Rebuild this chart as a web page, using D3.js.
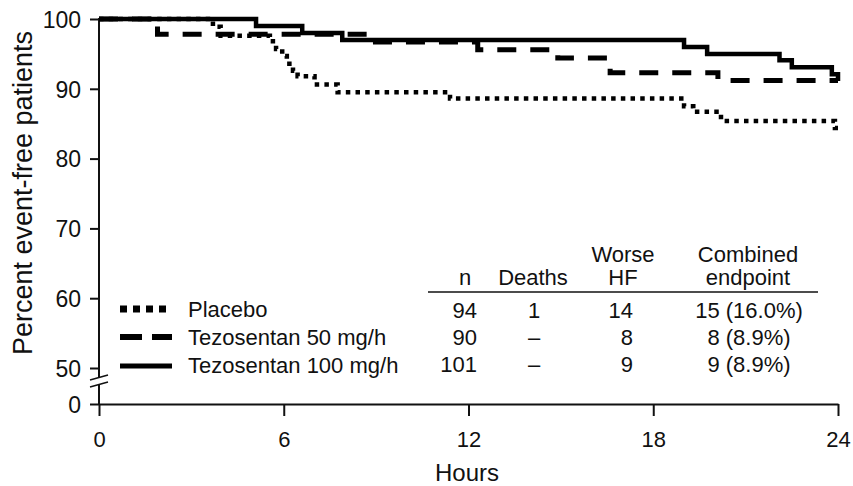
<!DOCTYPE html>
<html><head><meta charset="utf-8">
<script src="https://cdn.jsdelivr.net/npm/d3@7"></script>
<style>
body{margin:0;background:#fff}
svg{display:block;background:#fff}
text{font-family:"Liberation Sans",Arial,Helvetica,sans-serif;fill:#111}
</style>
</head><body>
<svg id="chart" width="853" height="486"></svg>
<script>
// ---- data ----
const xTicks = [0, 6, 12, 18, 24];
const yTicks = [0, 50, 60, 70, 80, 90, 100];
const seriesNames = ["Placebo", "Tezosentan 50 mg/h", "Tezosentan 100 mg/h"];

const placeboTimes  = [0, 3.7, 3.95, 5.55, 5.75, 5.95, 6.1, 6.3, 6.45, 7.0, 7.75, 11.4, 19.0, 19.3, 20.2, 23.9];
const placeboValues = [100, 98.9, 97.6, 96.8, 95.7, 94.7, 93.6, 92.6, 91.8, 90.6, 89.5, 88.6, 87.5, 86.7, 85.4, 84.4];

const tezo50Times  = [0, 1.9, 8.7, 12.3, 14.9, 16.6, 20.1];
const tezo50Values = [100, 97.8, 96.7, 95.6, 94.4, 92.3, 91.2];

const tezo100Times  = [0, 5.1, 6.6, 7.9, 19.0, 19.75, 22.1, 22.5, 23.8, 24.0];
const tezo100Values = [100, 99.0, 98.0, 97.0, 96.0, 95.0, 94.1, 93.1, 92.1, 91.1];

const tableHeader1 = ["", "", "Worse", "Combined"];
const tableHeader2 = ["n", "Deaths", "HF", "endpoint"];
const nValues      = ["94", "90", "101"];
const deathValues  = ["1", "\u2013", "\u2013"];
const worseHFValues = ["14", "8", "9"];
const combinedValues = ["15 (16.0%)", "8 (8.9%)", "9 (8.9%)"];

// ---- chart ----
const svg = d3.select("#chart");
const x = d3.scaleLinear().domain([0, 24]).range([99, 838]);
const y = d3.scaleLinear().domain([0, 50, 100]).range([404, 368, 19]);

const styles = [
  {w: 4.5, dash: "4.5 5.2", lw: 7, ldash: "7 6"},
  {w: 5,   dash: "19 14",   lw: 6, ldash: "22 10"},
  {w: 4.5, dash: null,      lw: 5, ldash: null}
];
const series = [
  {name: seriesNames[0], t: placeboTimes, v: placeboValues},
  {name: seriesNames[1], t: tezo50Times, v: tezo50Values},
  {name: seriesNames[2], t: tezo100Times, v: tezo100Values}
];

// x axis
const gx = svg.append("g").attr("transform", "translate(0," + y(0) + ")")
  .call(d3.axisBottom(x).tickValues(xTicks).tickSize(12).tickSizeOuter(0));
gx.select(".domain").attr("stroke", "#111").attr("stroke-width", 2);
gx.selectAll(".tick line").attr("stroke", "#111").attr("stroke-width", 2);
gx.selectAll(".tick text").attr("y", 43).attr("dy", null)
  .style("font-size", "22px").attr("fill", "#111");

// y axis
const gy = svg.append("g").attr("transform", "translate(" + x(0) + ",0)")
  .call(d3.axisLeft(y).tickValues(yTicks).tickSize(9).tickFormat(d3.format("d")));
gy.select(".domain").remove();
gy.selectAll(".tick line").attr("stroke", "#111").attr("stroke-width", 2);
gy.selectAll(".tick text").attr("x", -18).attr("dy", "0.36em")
  .style("font-size", "23px").attr("fill", "#111");

// axis line with break
const ax = x(0);
svg.append("line").attr("x1", ax).attr("x2", ax).attr("y1", y(100) - 1).attr("y2", y(50) + 9)
  .attr("stroke", "#111").attr("stroke-width", 2);
svg.append("line").attr("x1", ax).attr("x2", ax).attr("y1", y(50) + 16).attr("y2", y(0))
  .attr("stroke", "#111").attr("stroke-width", 2);
[0, 7].forEach(o => {
  svg.append("line").attr("x1", ax - 9).attr("y1", y(50) + 12 + o)
    .attr("x2", ax + 9).attr("y2", y(50) + 7 + o)
    .attr("stroke", "#111").attr("stroke-width", 1.6);
});

// curves
const line = d3.line().x(d => x(d[0])).y(d => y(d[1])).curve(d3.curveStepAfter);
series.forEach((s, i) => {
  const pts = s.t.map((t, k) => [t, s.v[k]]);
  if (pts[pts.length - 1][0] < 24) pts.push([24, s.v[s.v.length - 1]]);
  const p = svg.append("path").datum(pts).attr("d", line)
    .attr("fill", "none").attr("stroke", "#000")
    .attr("stroke-width", styles[i].w).attr("stroke-linejoin", "miter");
  if (styles[i].dash) p.attr("stroke-dasharray", styles[i].dash);
});

// legend
const legY = [309, 337, 366];
const legTextY = [317, 345, 373];
series.forEach((s, i) => {
  const l = svg.append("line").attr("x1", 120).attr("x2", 172)
    .attr("y1", legY[i]).attr("y2", legY[i])
    .attr("stroke", "#000").attr("stroke-width", styles[i].lw);
  if (styles[i].ldash) l.attr("stroke-dasharray", styles[i].ldash);
  svg.append("text").attr("x", 188).attr("y", legTextY[i])
    .style("font-size", "22px").text(s.name);
});

// table
const colX = [465, 533, 623, 748];
tableHeader1.forEach((h, i) => {
  if (h) svg.append("text").attr("x", colX[i]).attr("y", 262)
    .attr("text-anchor", "middle").style("font-size", "22px").text(h);
});
tableHeader2.forEach((h, i) => {
  svg.append("text").attr("x", colX[i]).attr("y", 285)
    .attr("text-anchor", "middle").style("font-size", "22px").text(h);
});
svg.append("line").attr("x1", 428).attr("x2", 818).attr("y1", 292).attr("y2", 292)
  .attr("stroke", "#111").attr("stroke-width", 1.5);
const rowY = [318, 345, 372];
rowY.forEach((ry, r) => {
  svg.append("text").attr("x", 477).attr("y", ry).attr("text-anchor", "end")
    .style("font-size", "22px").text(nValues[r]);
  svg.append("text").attr("x", 534).attr("y", ry).attr("text-anchor", "middle")
    .style("font-size", "22px").text(deathValues[r]);
  svg.append("text").attr("x", 633).attr("y", ry).attr("text-anchor", "end")
    .style("font-size", "22px").text(worseHFValues[r]);
  svg.append("text").attr("x", 749).attr("y", ry).attr("text-anchor", "middle")
    .style("font-size", "22px").text(combinedValues[r]);
});

// axis titles
svg.append("text").attr("x", 467).attr("y", 481).attr("text-anchor", "middle")
  .style("font-size", "24px").text("Hours");
svg.append("text").attr("transform", "translate(32,193) rotate(-90)")
  .attr("text-anchor", "middle").style("font-size", "27px").text("Percent event-free patients");
</script>
</body></html>
